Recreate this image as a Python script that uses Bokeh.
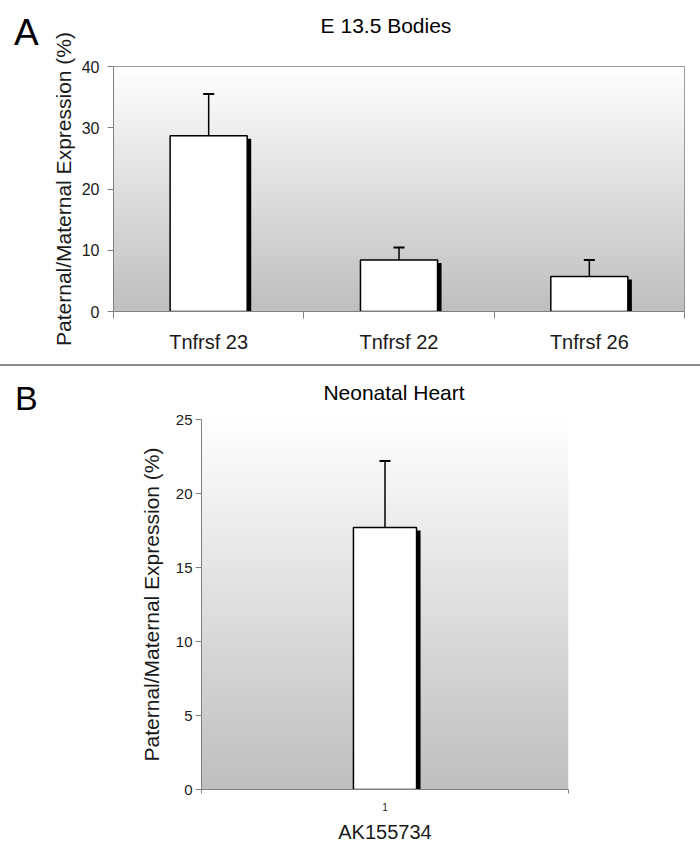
import numpy as np
from bokeh.plotting import figure
from bokeh.models import Range1d, FixedTicker, ColumnDataSource, LinearColorMapper, Div
from bokeh.embed import file_html
from bokeh.resources import INLINE

# ---------------- data ----------------
cats_a = ["Tnfrsf 23", "Tnfrsf 22", "Tnfrsf 26"]
vals_a = [28.7, 8.4, 5.7]
errs_a = [6.8, 2.05, 2.7]
yticks_a = [0, 10, 20, 30, 40]

cats_b = ["1"]
vals_b = [17.7]
errs_b = [4.5]
yticks_b = [0, 5, 10, 15, 20, 25]

FONT = "Liberation Sans"
AXC = "#808080"
TXT = "#1a1a1a"
W = 700
grays = ["#%02x%02x%02x" % (v, v, v) for v in np.linspace(191, 255, 256).astype(int)]
grad = np.linspace(0, 1, 256).reshape(256, 1)


def panel(cats, vals, errs, yticks, height, mb, bar_w, xlabel_size, xlabel=None,
          show_outline=True):
    left, right, top, bottom = mb
    n = len(cats)
    ymax = yticks[-1]
    p = figure(width=W, height=height, output_backend="svg", toolbar_location=None,
               x_range=Range1d(0, n), y_range=Range1d(0, ymax),
               min_border_left=left, min_border_right=right,
               min_border_top=top, min_border_bottom=bottom,
               background_fill_color="white", border_fill_color="white")
    p.outline_line_color = AXC if show_outline else None
    p.xgrid.visible = False
    p.ygrid.visible = False

    fw = W - left - right
    fh = height - top - bottom
    dx = 4 * n / fw
    dy = 3 * ymax / fh

    p.image(image=[grad], x=0, y=0, dw=n, dh=ymax,
            color_mapper=LinearColorMapper(palette=grays, low=0, high=1))

    xc = np.arange(n) + 0.5
    vals = np.array(vals, dtype=float)
    src = ColumnDataSource(dict(x=xc, xs=xc + dx, v=vals, vs=vals - dy,
                                up=vals + np.array(errs)))
    p.vbar(x="xs", top="vs", bottom=0, width=bar_w, source=src,
           fill_color="black", line_color=None)
    p.segment(x0="x", y0="v", x1="x", y1="up", source=src,
              line_color="black", line_width=1.5)
    p.vbar(x="x", top="v", bottom=0, width=bar_w, source=src,
           fill_color="white", line_color="black", line_width=1.5)
    p.scatter(x="x", y="up", marker="dash", size=11, source=src,
              line_color="black", line_width=2)

    xa = p.xaxis[0]
    xa.ticker = FixedTicker(ticks=list(xc), minor_ticks=list(range(n + 1)))
    xa.major_label_overrides = {float(x): c for x, c in zip(xc, cats)}
    xa.major_tick_line_color = None
    xa.major_tick_out = 0
    xa.major_tick_in = 0
    xa.minor_tick_in = 0
    xa.minor_tick_line_color = AXC
    xa.axis_line_color = AXC
    xa.major_label_text_font = FONT
    xa.major_label_text_color = TXT
    xa.major_label_text_font_size = "%dpx" % xlabel_size
    if xlabel:
        xa.axis_label = xlabel
        xa.axis_label_text_font = FONT
        xa.axis_label_text_font_style = "normal"
        xa.axis_label_text_font_size = "20px"
        xa.axis_label_text_color = TXT
        xa.axis_label_standoff = 7

    ya = p.yaxis[0]
    ya.ticker = FixedTicker(ticks=yticks)
    ya.minor_tick_line_color = None
    ya.major_tick_in = 0
    ya.major_tick_out = 6
    ya.major_tick_line_color = AXC
    ya.axis_line_color = AXC
    ya.major_label_text_font = FONT
    ya.major_label_text_color = TXT
    ya.axis_label = "Paternal/Maternal Expression (%)"
    ya.axis_label_text_font = FONT
    ya.axis_label_text_font_style = "normal"
    ya.axis_label_text_font_size = "21px"
    ya.axis_label_text_color = TXT
    return p


def text_div(txt, left, top, size, width, align="left"):
    st = {"position": "absolute", "left": "%dpx" % left, "top": "%dpx" % top,
          "font-size": "%dpx" % size, "font-family": FONT, "line-height": "1",
          "color": "black", "text-align": align}
    inner = ('<div style="font-size:%dpx;font-family:%s;line-height:1;text-align:%s;'
             'width:%dpx;white-space:nowrap">%s</div>' % (size, FONT, align, width, txt))
    return Div(text=inner, width=width, height=size + 4, margin=0, styles=st)


# ---------- panel A ----------
pa = panel(cats_a, vals_a, errs_a, yticks_a, 364, (113, 16, 66, 53), 0.405, 20)
pa.xaxis[0].minor_tick_out = 7
pa.xaxis[0].major_label_standoff = 12
pa.yaxis[0].major_label_text_font_size = "16px"
pa.yaxis[0].major_label_standoff = 8
pa.yaxis[0].axis_label_standoff = 4

# ---------- divider ----------
div = Div(text="", width=W, height=2, margin=0, styles={"background-color": "#8c8c8c"})

# ---------- panel B ----------
pb = panel(cats_b, vals_b, errs_b, yticks_b, 487, (201, 132, 53, 64), 0.172, 10,
           xlabel="AK155734", show_outline=False)
pb.xaxis[0].minor_tick_out = 4
pb.xaxis[0].major_label_standoff = 9
pb.yaxis[0].major_label_text_font_size = "15px"
pb.yaxis[0].major_label_standoff = 3
pb.yaxis[0].axis_label_standoff = 10

la = text_div("A", 14, 14, 37, 40)
ta = text_div("E 13.5 Bodies", 236, 15, 21, 300, "center")
lb = text_div("B", 15, 381, 34, 40)
tb = text_div("Neonatal Heart", 244, 382, 21, 300, "center")

open("out.html", "w").write(file_html([pa, div, pb, la, ta, lb, tb], INLINE))
